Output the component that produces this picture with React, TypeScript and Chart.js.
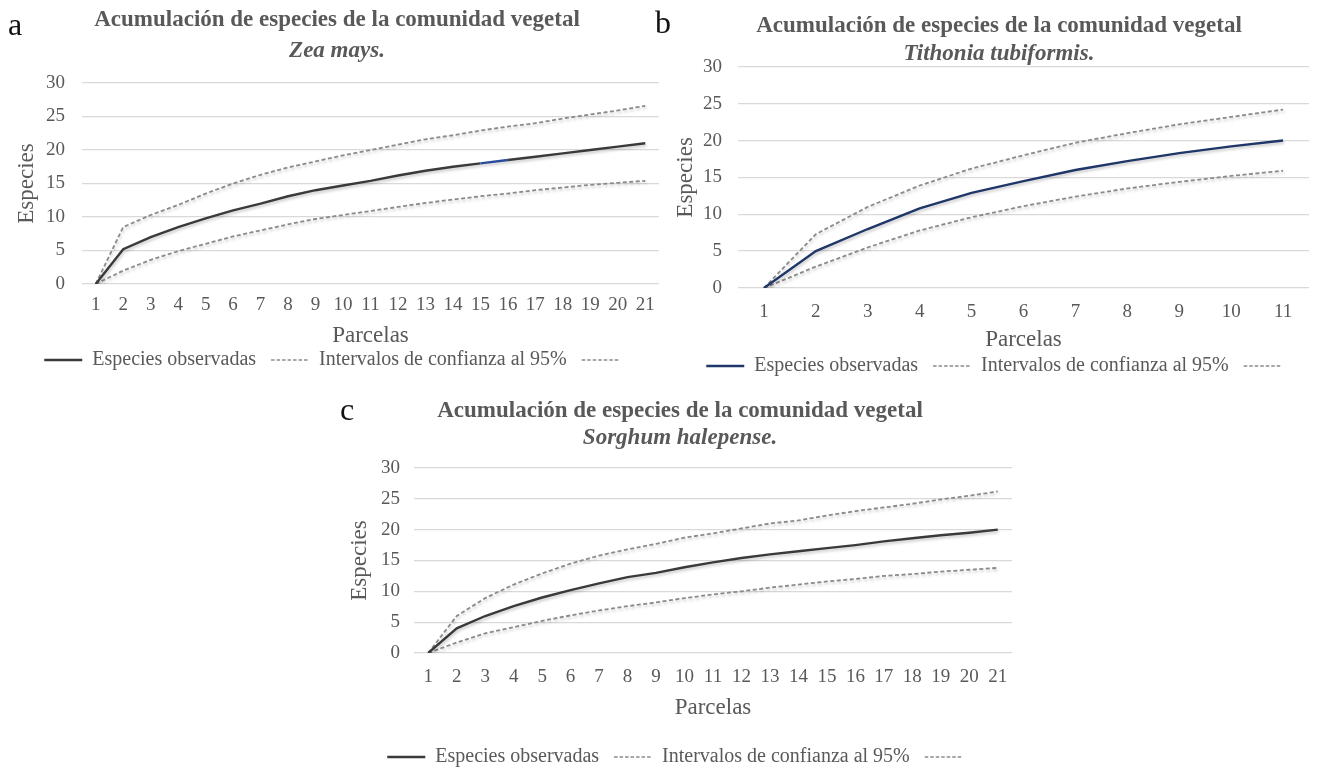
import React, { useEffect, useRef } from 'react';
import { Chart, registerables } from 'chart.js';

Chart.register(...registerables);

// ---------- text ----------
const TITLE = 'Acumulación de especies de la comunidad vegetal';
const LEGEND_OBS = 'Especies observadas';
const LEGEND_CI = 'Intervalos de confianza al 95%';
const Y_TITLE = 'Especies';
const X_TITLE = 'Parcelas';
const Y_MIN = 0;
const Y_MAX = 30;
const Y_STEP = 5;

// ---------- (a) Zea mays ----------
const speciesA = 'Zea mays.';
const parcelasA = ['1', '2', '3', '4', '5', '6', '7', '8', '9', '10', '11', '12', '13', '14', '15', '16', '17', '18', '19', '20', '21'];
const observadasA = [0, 5.2, 7.0, 8.5, 9.8, 11.0, 12.0, 13.1, 14.0, 14.7, 15.4, 16.2, 16.9, 17.5, 18.0, 18.5, 19.0, 19.5, 20.0, 20.5, 21.0];
const superiorA = [0, 8.5, 10.3, 11.8, 13.5, 15.0, 16.3, 17.4, 18.3, 19.2, 20.0, 20.8, 21.6, 22.2, 22.9, 23.5, 24.0, 24.7, 25.3, 25.9, 26.6];
const inferiorA = [0, 2.0, 3.6, 4.9, 6.0, 7.1, 8.0, 8.9, 9.7, 10.3, 10.9, 11.5, 12.1, 12.6, 13.1, 13.5, 14.0, 14.4, 14.8, 15.1, 15.4];

// ---------- (b) Tithonia tubiformis ----------
const speciesB = 'Tithonia tubiformis.';
const parcelasB = ['1', '2', '3', '4', '5', '6', '7', '8', '9', '10', '11'];
const observadasB = [0, 5.0, 8.0, 10.8, 12.9, 14.5, 16.0, 17.2, 18.3, 19.2, 20.0];
const superiorB = [0, 7.3, 11.0, 13.9, 16.2, 18.0, 19.7, 21.0, 22.2, 23.2, 24.2];
const inferiorB = [0, 2.9, 5.5, 7.8, 9.6, 11.1, 12.4, 13.5, 14.4, 15.2, 15.9];

// ---------- (c) Sorghum halepense ----------
const speciesC = 'Sorghum halepense.';
const parcelasC = ['1', '2', '3', '4', '5', '6', '7', '8', '9', '10', '11', '12', '13', '14', '15', '16', '17', '18', '19', '20', '21'];
const observadasC = [0, 4.0, 6.0, 7.6, 9.0, 10.2, 11.3, 12.3, 13.0, 13.9, 14.7, 15.4, 16.0, 16.5, 17.0, 17.5, 18.1, 18.6, 19.1, 19.5, 20.0];
const superiorC = [0, 6.0, 8.9, 11.1, 12.9, 14.5, 15.8, 16.8, 17.7, 18.7, 19.4, 20.2, 21.0, 21.5, 22.3, 23.0, 23.6, 24.2, 24.9, 25.5, 26.2];
const inferiorC = [0, 1.7, 3.2, 4.2, 5.2, 6.1, 6.9, 7.6, 8.2, 8.9, 9.5, 10.0, 10.6, 11.1, 11.6, 12.0, 12.5, 12.8, 13.2, 13.5, 13.8];

// ---------- styling ----------
const FONT = "'Liberation Serif', 'Times New Roman', serif";
const TEXT = '#595959';
const GRID = '#d9d9d9';
const CI_COLOR = '#8a8a8a';
const DARK = '#3a3a3a';
const NAVY = '#1f3668';

type Panel = {
  letter: string; letterLeft: number; letterTop: number;
  species: string;
  labels: string[]; observed: number[]; upper: number[]; lower: number[];
  obsColor: string; blueSegment?: number;
  left: number; top: number; width: number; height: number;
  titlePadTop: number; subPadTop: number; subPadBottom: number;
  yWidth: number; rightWidth: number; yTickPad: number; yTitlePad: number;
  xHeight: number; xTickPad: number; xTitlePadBottom: number;
};

const shadowPlugin = {
  id: 'lineShadow',
  beforeDatasetDraw(chart: any) {
    const ctx = chart.ctx;
    ctx.save();
    ctx.shadowColor = 'rgba(0,0,0,0.22)';
    ctx.shadowBlur = 3;
    ctx.shadowOffsetX = 1;
    ctx.shadowOffsetY = 2;
  },
  afterDatasetDraw(chart: any) {
    chart.ctx.restore();
  },
};

function ChartPanel({ p }: { p: Panel }) {
  const ref = useRef<HTMLCanvasElement | null>(null);
  useEffect(() => {
    if (!ref.current) return;
    const chart = new Chart(ref.current, {
      type: 'line',
      data: {
        labels: p.labels,
        datasets: [
          {
            label: LEGEND_OBS,
            data: p.observed,
            borderColor: p.obsColor,
            borderWidth: 2.4,
            pointRadius: 0,
            tension: 0,
            segment: p.blueSegment !== undefined ? {
              borderColor: (c: any) => (c.p0DataIndex === p.blueSegment ? '#2a4a9a' : undefined),
            } : undefined,
          },
          {
            label: LEGEND_CI,
            data: p.upper,
            borderColor: CI_COLOR,
            borderWidth: 1.8,
            borderDash: [4, 2.5],
            pointRadius: 0,
            tension: 0,
          },
          {
            label: '',
            data: p.lower,
            borderColor: CI_COLOR,
            borderWidth: 1.8,
            borderDash: [4, 2.5],
            pointRadius: 0,
            tension: 0,
          },
        ],
      } as any,
      options: {
        responsive: false,
        animation: false,
        devicePixelRatio: 1,
        layout: { padding: 0 },
        scales: {
          x: {
            type: 'category',
            offset: true,
            grid: { display: false, drawTicks: false },
            border: { display: false },
            ticks: {
              color: TEXT, font: { family: FONT, size: 19, lineHeight: 1.2 },
              padding: p.xTickPad, maxRotation: 0, autoSkip: false,
            },
            title: {
              display: true, text: X_TITLE, color: TEXT,
              font: { family: FONT, size: 23, lineHeight: 1 },
              padding: { top: 0, bottom: p.xTitlePadBottom },
            },
            afterFit: (s: any) => { s.height = p.xHeight; },
          },
          y: {
            type: 'linear',
            position: 'left',
            min: Y_MIN, max: Y_MAX,
            grid: { color: GRID, lineWidth: 1.3, drawTicks: false },
            border: { display: false },
            ticks: {
              stepSize: Y_STEP, color: TEXT,
              font: { family: FONT, size: 19 }, padding: p.yTickPad,
            },
            title: {
              display: true, text: Y_TITLE, color: TEXT,
              font: { family: FONT, size: 23, lineHeight: 1 },
              padding: { top: p.yTitlePad, bottom: 0 },
            },
            afterFit: (s: any) => { s.width = p.yWidth; },
          },
          yR: {
            type: 'linear',
            position: 'right',
            display: true,
            grid: { display: false, drawTicks: false },
            border: { display: false },
            ticks: { display: false },
            afterFit: (s: any) => { s.width = p.rightWidth; },
          },
        },
        plugins: {
          title: {
            display: true, text: TITLE, color: TEXT,
            font: { family: FONT, size: 23, weight: 'bold', lineHeight: 1.1 },
            padding: { top: p.titlePadTop, bottom: 0 },
          },
          subtitle: {
            display: true, text: p.species, color: TEXT,
            font: { family: FONT, size: 23, weight: 'bold', style: 'italic', lineHeight: 1.1 },
            padding: { top: p.subPadTop, bottom: p.subPadBottom },
          },
          legend: {
            display: true,
            position: 'bottom',
            align: 'center',
            labels: {
              color: TEXT,
              font: { family: FONT, size: 20 },
              padding: 15,
              usePointStyle: true,
              pointStyleWidth: 38,
              generateLabels: (ch: any) => ch.data.datasets.map((ds: any, i: number) => ({
                text: ds.label,
                fillStyle: 'rgba(0,0,0,0)',
                strokeStyle: ds.borderColor,
                lineWidth: i === 0 ? 2.4 : 1.5,
                lineDash: i === 0 ? [] : [3.5, 2],
                pointStyle: 'line',
                hidden: false,
                datasetIndex: i,
                fontColor: TEXT,
              })),
            },
          },
          tooltip: { enabled: false },
        },
      } as any,
      plugins: [shadowPlugin],
    });
    return () => chart.destroy();
  }, [p]);

  return (
    <>
      <canvas
        ref={ref}
        width={p.width}
        height={p.height}
        style={{ position: 'absolute', left: p.left, top: p.top, width: p.width, height: p.height }}
      />
      <div
        style={{
          position: 'absolute', left: p.letterLeft, top: p.letterTop,
          fontFamily: FONT, fontSize: 32, lineHeight: '32px', color: '#111',
        }}
      >
        {p.letter}
      </div>
    </>
  );
}

const panels: Panel[] = [
  {
    letter: 'a', letterLeft: 8, letterTop: 8,
    species: speciesA, labels: parcelasA, observed: observadasA, upper: superiorA, lower: inferiorA,
    obsColor: DARK, blueSegment: 14,
    left: 0, top: 0, width: 674, height: 380,
    titlePadTop: 7, subPadTop: 5.7, subPadBottom: 19.7,
    yWidth: 82, rightWidth: 15, yTickPad: 17, yTitlePad: 15.5,
    xHeight: 51, xTickPad: 9.6, xTitlePadBottom: -12.5,
  },
  {
    letter: 'b', letterLeft: 655, letterTop: 6,
    species: speciesB, labels: parcelasB, observed: observadasB, upper: superiorB, lower: inferiorB,
    obsColor: NAVY,
    left: 672, top: 0, width: 654, height: 386,
    titlePadTop: 13.5, subPadTop: 2.7, subPadBottom: 0,
    yWidth: 66, rightWidth: 17, yTickPad: 16, yTitlePad: 2.5,
    xHeight: 53, xTickPad: 12.6, xTitlePadBottom: -10.5,
  },
  {
    letter: 'c', letterLeft: 340, letterTop: 393,
    species: speciesC, labels: parcelasC, observed: observadasC, upper: superiorC, lower: inferiorC,
    obsColor: DARK,
    left: 340, top: 385, width: 680, height: 392,
    titlePadTop: 13.5, subPadTop: 1.7, subPadBottom: 17.2,
    yWidth: 74, rightWidth: 6, yTickPad: 14, yTitlePad: 8.5,
    xHeight: 79, xTickPad: 12.6, xTitlePadBottom: 12.5,
  },
];

export default function App() {
  return (
    <div style={{ position: 'absolute', left: 0, top: 0, width: 1318, height: 769, background: '#ffffff', overflow: 'hidden' }}>
      {panels.map((p) => (
        <ChartPanel key={p.letter} p={p} />
      ))}
    </div>
  );
}
